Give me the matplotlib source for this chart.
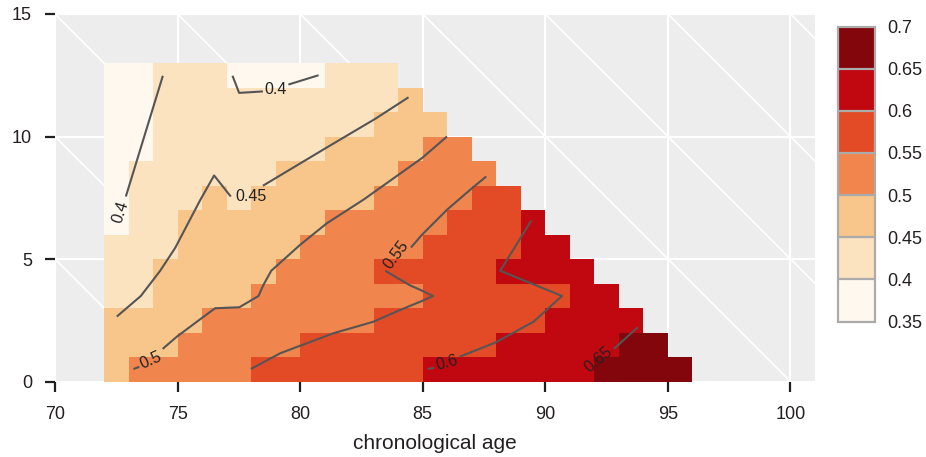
import numpy as np
import matplotlib
matplotlib.use('Agg')
import matplotlib.pyplot as plt
from matplotlib.colors import ListedColormap, BoundaryNorm

plt.rcParams['font.family'] = ['Liberation Sans', 'DejaVu Sans']

# ---------------- data ----------------
x_first = 72          # first chronological age column
levels = [0.35, 0.4, 0.45, 0.5, 0.55, 0.6, 0.65, 0.7]
level_labels = ['0.35', '0.4', '0.45', '0.5', '0.55', '0.6', '0.65', '0.7']
colors = ['#FFF8EF', '#FBE3C0', '#F8C68B', '#F0854D', '#E34B27', '#C1070F', '#84060D']

# cell values per row (row index = y, cells start at age 72)
row_0 = [0.48, 0.53, 0.53, 0.53, 0.53, 0.53, 0.58, 0.58, 0.58, 0.58, 0.58, 0.58, 0.58,
         0.63, 0.63, 0.63, 0.63, 0.63, 0.63, 0.63, 0.68, 0.68, 0.68, 0.68]
row_1 = [0.48, 0.48, 0.48, 0.53, 0.53, 0.53, 0.53, 0.53, 0.58, 0.58, 0.58, 0.58, 0.58,
         0.58, 0.58, 0.58, 0.63, 0.63, 0.63, 0.63, 0.63, 0.68, 0.68]
row_2 = [0.48, 0.48, 0.48, 0.48, 0.53, 0.53, 0.53, 0.53, 0.53, 0.53, 0.53, 0.58, 0.58,
         0.58, 0.58, 0.58, 0.58, 0.58, 0.63, 0.63, 0.63, 0.63]
row_3 = [0.43, 0.43, 0.48, 0.48, 0.48, 0.48, 0.53, 0.53, 0.53, 0.53, 0.53, 0.53, 0.53,
         0.58, 0.58, 0.58, 0.58, 0.58, 0.58, 0.63, 0.63]
row_4 = [0.43, 0.43, 0.48, 0.48, 0.48, 0.48, 0.48, 0.53, 0.53, 0.53, 0.53, 0.58, 0.58,
         0.58, 0.58, 0.58, 0.63, 0.63, 0.63, 0.63]
row_5 = [0.43, 0.43, 0.43, 0.48, 0.48, 0.48, 0.48, 0.48, 0.53, 0.53, 0.53, 0.53, 0.53,
         0.58, 0.58, 0.58, 0.58, 0.63, 0.63]
row_6 = [0.38, 0.43, 0.43, 0.48, 0.48, 0.48, 0.48, 0.48, 0.48, 0.53, 0.53, 0.53, 0.53,
         0.53, 0.58, 0.58, 0.58, 0.63]
row_7 = [0.38, 0.43, 0.43, 0.43, 0.48, 0.43, 0.48, 0.48, 0.48, 0.48, 0.48, 0.53, 0.53,
         0.53, 0.53, 0.58, 0.58]
row_8 = [0.38, 0.43, 0.43, 0.43, 0.43, 0.43, 0.43, 0.48, 0.48, 0.48, 0.48, 0.48, 0.53,
         0.53, 0.53, 0.53]
row_9 = [0.38, 0.38, 0.43, 0.43, 0.43, 0.43, 0.43, 0.43, 0.43, 0.48, 0.48, 0.48, 0.48,
         0.53, 0.53]
row_10 = [0.38, 0.38, 0.43, 0.43, 0.43, 0.43, 0.43, 0.43, 0.43, 0.43, 0.43, 0.48, 0.48, 0.48]
row_11 = [0.38, 0.38, 0.43, 0.43, 0.43, 0.43, 0.43, 0.43, 0.43, 0.43, 0.43, 0.43, 0.48]
row_12 = [0.38, 0.38, 0.43, 0.43, 0.43, 0.38, 0.38, 0.38, 0.38, 0.43, 0.43, 0.43]
rows = [row_0, row_1, row_2, row_3, row_4, row_5, row_6, row_7, row_8, row_9,
        row_10, row_11, row_12]

# contour lines (visible pieces, in age / y units)
contour_040 = [[(74.40, 12.48), (72.89, 7.55)],
               [(77.24, 12.48), (77.51, 11.78), (78.48, 11.84)],
               [(79.52, 12.12), (80.75, 12.50)]]
contour_045 = [[(72.52, 2.65), (73.50, 3.49), (74.29, 4.52), (74.90, 5.45),
                (75.92, 7.40), (76.49, 8.41), (77.17, 7.55)],
               [(78.48, 7.99), (81.00, 9.50), (83.06, 10.72), (84.42, 11.60)]]
contour_050 = [[(73.20, 0.51), (73.44, 0.60)],
               [(74.39, 1.33), (74.97, 1.83), (75.92, 2.54), (76.53, 2.99),
                (77.52, 3.03), (78.30, 3.49), (78.50, 3.94), (78.82, 4.52),
                (80.00, 5.58), (81.09, 6.46), (82.58, 7.42), (84.97, 9.12), (85.99, 10.00)]]
contour_055 = [[(77.99, 0.51), (79.18, 1.15), (80.00, 1.46), (81.36, 1.97), (82.99, 2.44),
                (84.08, 2.92), (85.00, 3.30), (85.42, 3.49), (84.90, 3.74),
                (84.49, 3.92), (83.47, 4.52)],
               [(84.52, 5.47), (84.97, 5.99), (85.99, 7.01), (86.94, 7.83), (87.59, 8.37)]]
contour_060 = [[(85.20, 0.51), (85.47, 0.56)],
               [(86.50, 1.01), (87.96, 1.59), (89.52, 2.44), (90.68, 3.49),
                (88.16, 4.52), (89.43, 6.57)]]
contour_065 = [[(92.79, 1.33), (93.77, 2.21)]]

label_text = ['0.4', '0.4', '0.45', '0.5', '0.55', '0.6', '0.65']
label_x = [72.69, 78.99, 77.99, 73.90, 83.91, 85.97, 92.16]
label_y = [6.91, 11.91, 7.54, 0.88, 5.17, 0.76, 0.88]
label_rot = [72, 0, 0, 24, 53, 15, 40]

x_ticks = [70, 75, 80, 85, 90, 95, 100]
y_ticks = [0, 5, 10, 15]

# ---------------- figure ----------------
W, H = 926, 457
fig = plt.figure(figsize=(W / 100, H / 100), dpi=100)
ax = fig.add_axes([55 / W, 1 - 381.5 / H, 760 / W, 367.5 / H])
ax.set_facecolor('#EDEDED')
ax.set_xlim(70, 101)
ax.set_ylim(0, 15)

# diagonal lifespan lines
for c in range(75, 120, 5):
    ax.axline((c, 0), slope=-1, color='white', lw=1.2, zorder=0.5)

ax.grid(True, color='white', lw=1.6, zorder=0.6)
ax.set_axisbelow(True)

ncols = max(len(r) for r in rows)
Z = np.full((len(rows), ncols), np.nan)
for i, r in enumerate(rows):
    Z[i, :len(r)] = r
Zm = np.ma.masked_invalid(Z)
xe = np.arange(x_first, x_first + ncols + 1)
ye = np.arange(0, len(rows) + 1)
cmap = ListedColormap(colors)
norm = BoundaryNorm(levels, cmap.N)
mesh = ax.pcolormesh(xe, ye, Zm, cmap=cmap, norm=norm, shading='flat',
                     edgecolors='none', zorder=1)

line_col = '#555555'
for pieces in [contour_040, contour_045, contour_050, contour_055, contour_060, contour_065]:
    for p in pieces:
        px = [a for a, b in p]
        py = [b for a, b in p]
        ax.plot(px, py, color=line_col, lw=1.5, zorder=3, solid_capstyle='butt')

for t, lx, ly, rot in zip(label_text, label_x, label_y, label_rot):
    ax.text(lx, ly, t, fontsize=11.5, color='#222222', rotation=rot,
            rotation_mode='anchor', ha='center', va='center', zorder=4)

ax.set_xticks(x_ticks)
ax.set_yticks(y_ticks)
for s in ax.spines.values():
    s.set_visible(False)
ax.tick_params(axis='both', length=7.5, width=1.6, color='#231F20',
               labelsize=13, labelcolor='#231F20')
ax.tick_params(axis='x', pad=10)
ax.tick_params(axis='y', pad=9)
ax.set_xlabel('chronological age', fontsize=15, color='#231F20', labelpad=8)

# colorbar
cax = fig.add_axes([838 / W, 1 - 321.5 / H, 37 / W, 295 / H])
cb = fig.colorbar(mesh, cax=cax, boundaries=levels, ticks=levels, drawedges=True)
cb.outline.set_edgecolor('#ABABAB')
cb.outline.set_linewidth(1.6)
cb.dividers.set_color('#ABABAB')
cb.dividers.set_linewidth(1.6)
cb.set_ticklabels(level_labels)
cax.tick_params(length=0, labelsize=13, labelcolor='#231F20', pad=9)

fig.savefig('out.png', dpi=100)
